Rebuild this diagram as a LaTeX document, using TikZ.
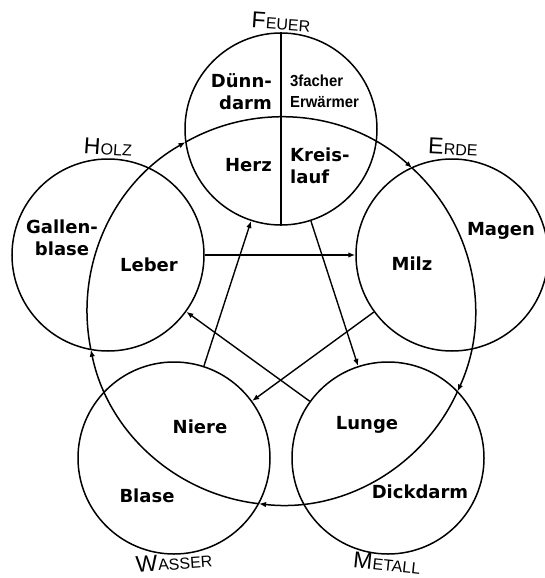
\documentclass[tikz,border=0pt]{standalone}
\usepackage{fontspec}
\setmainfont{DejaVu Sans}
\newfontfamily\lblfont{Liberation Sans}
\usetikzlibrary{arrows.meta,calc}
\newcommand\ElemLbl[2]{{\lblfont\fontsize{23}{23}\selectfont #1\kern0.5pt}{\lblfont\fontsize{16}{16}\selectfont #2}}
\begin{document}
\begin{tikzpicture}[x=1pt,y=-1pt,
  elem/.style={circle,draw,line width=1.5pt,minimum size=192pt,inner sep=0pt},
  organ/.style={font=\fontsize{18}{22}\selectfont\bfseries,align=center,inner sep=0pt},
  small/.style={font=\lblfont\bfseries\fontsize{16}{22}\selectfont,align=left,inner sep=0pt},
  elemlbl/.style={inner sep=0pt},
  ctl/.style={line width=1.4pt,-{Latex[length=7pt,width=5.5pt]}},
  gen/.style={line width=1.5pt,-{Latex[length=7pt,width=5.5pt]}},
  plain/.style={line width=1.4pt}
]
\useasboundingbox (0,0) rectangle (545,578);
% element circles
\node[elem] (F) at (281,129) {};
\node[elem] (E) at (452,255) {};
\node[elem] (M) at (388,458) {};
\node[elem] (W) at (174,458) {};
\node[elem] (H) at (108,255) {};
\draw[plain] (F.north) -- (F.south);
% big generating circle
\coordinate (O) at (281,311);
\coordinate (pH) at ($(O)+(168.5:194)$);
\coordinate (pF) at ($(O)+(240.5:194)$);
\coordinate (pE) at ($(O)+(312.5:194)$);
\coordinate (pM) at ($(O)+(24.5:194)$);
\coordinate (pW) at ($(O)+(96.5:194)$);
\draw[gen] (pW) arc[start angle=96.5, end angle=168.5, radius=194];
\draw[gen] (pH) arc[start angle=168.5, end angle=240.5, radius=194];
\draw[gen] (pF) arc[start angle=240.5, end angle=312.5, radius=194];
\draw[gen] (pE) arc[start angle=312.5, end angle=384.5, radius=194];
\draw[gen] (pM) arc[start angle=24.5, end angle=96.5, radius=194];
% controlling cycle
\draw[ctl] (H) -- (E);
\draw[ctl] (E) -- (W);
\draw[ctl] (W) -- (F);
\draw[ctl] (F) -- (M);
\draw[ctl] (M) -- (H);
% element labels
\node[elemlbl, rotate=-4] (lF) at (281,22) {\ElemLbl{F}{EUER}};
\node[elemlbl, rotate=-4] (lH) at (108,147) {\ElemLbl{H}{OLZ}};
\node[elemlbl, rotate=-3] (lE) at (453,147) {\ElemLbl{E}{RDE}};
\node[elemlbl, rotate=4] (lW) at (174,562) {\ElemLbl{W}{ASSER}};
\node[elemlbl, rotate=-6] (lM) at (387,563) {\ElemLbl{M}{ETALL}};
% organs
\node[organ, align=right, anchor=east] (duenn) at (272,92) {Dünn-\\darm};
\node[small, anchor=west] (dreif) at (290,93) {\scalebox{0.93}[1]{\begin{tabular}{@{}l@{}}3facher\\[-1pt]Erwärmer\end{tabular}}};
\node[organ, anchor=east] (herz) at (272,165) {Herz};
\node[organ, align=left, anchor=west] (kreis) at (290,166) {Kreis-\\lauf};
\node[organ] (galle) at (62,238) {Gallen-\\blase};
\node[organ] (leber) at (149,265) {Leber};
\node[organ] (magen) at (501,231) {Magen};
\node[organ] (milz) at (412,264) {Milz};
\node[organ] (niere) at (200,427) {Niere};
\node[organ] (blase) at (147,496) {Blase};
\node[organ] (lunge) at (367,425) {Lunge};
\node[organ] (dick) at (420,492) {Dickdarm};
\end{tikzpicture}
\end{document}
